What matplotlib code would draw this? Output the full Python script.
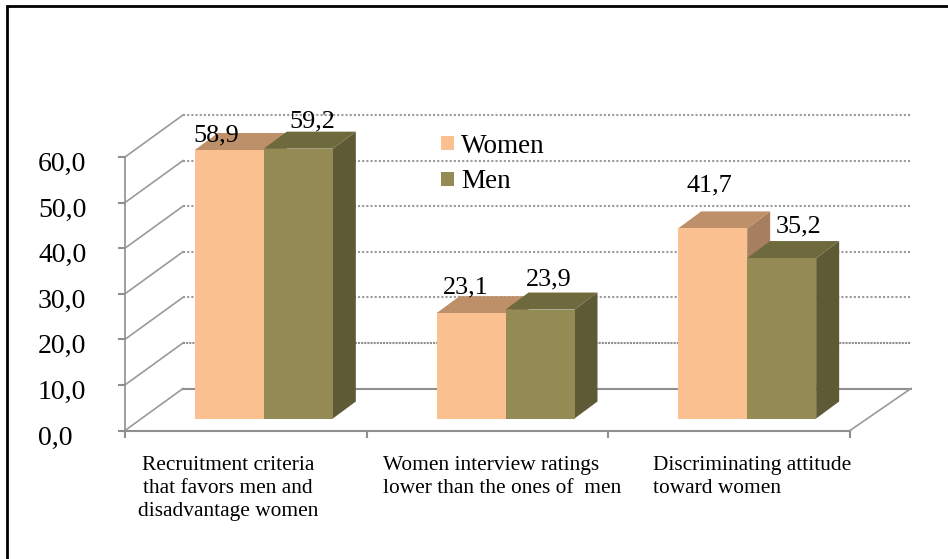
import matplotlib
matplotlib.use("Agg")
import matplotlib.pyplot as plt
from matplotlib.lines import Line2D
from matplotlib.patches import Patch, Polygon, Rectangle
from matplotlib.transforms import ScaledTranslation

categories = ["Recruitment criteria\nthat favors men and\ndisadvantage women",
              "Women interview ratings\nlower than the ones of  men",
              "Discriminating attitude\ntoward women"]
women = [58.9, 23.1, 41.7]
men = [59.2, 23.9, 35.2]
women_labels = ["58,9", "23,1", "41,7"]
men_labels = ["59,2", "23,9", "35,2"]
yticks = [0, 10, 20, 30, 40, 50, 60]
ytick_labels = ["0,0", "10,0", "20,0", "30,0", "40,0", "50,0", "60,0"]

W, H = 948, 559
plt.rcParams["font.family"] = ["Liberation Serif", "DejaVu Serif"]
fig = plt.figure(figsize=(W / 100, H / 100), dpi=100)
ax = fig.add_axes([125 / W, (H - 430.5) / H, 725 / W, 273.5 / H])
ax.set_xlim(0, 3)
ax.set_ylim(0, 60)
PX = 3 / 725
PY = 60 / 273.5
GREY = "#8f8f8f"

# only the top and left sides of the frame are there
fig.add_artist(Line2D([6.5 / W, 6.5 / W, 1], [0, (H - 6) / H, (H - 6) / H], color="black", lw=2,
                      solid_joinstyle="miter", transform=fig.transFigure))

# walls and floor of the fake 3d box
wx0, wx1, wy = 58 * PX, 61 * PX, 42 * PY
for v in yticks:
    ax.plot([0, wx0], [v, v + wy], color="#9a9a9a", lw=1.2, clip_on=False, zorder=1)
    if v == 0:
        ls, col = "-", GREY
    elif v == 10:
        ls, col = (0, (1, 0.5)), GREY
    else:
        ls, col = (0, (1, 1)), "#9a9a9a"
    ax.plot([wx0, 3 + wx1], [v + wy, v + wy], color=col, lw=1.5, ls=ls, clip_on=False, zorder=1)
ax.plot([3, 3 + wx1], [0, wy], color="#9a9a9a", lw=1.2, clip_on=False, zorder=1)

for s in ["top", "right"]:
    ax.spines[s].set_visible(False)
ax.spines["left"].set_linestyle((0, (1, 1)))
ax.spines["left"].set_color(GREY)
ax.spines["left"].set_linewidth(1.2)
ax.spines["bottom"].set_color(GREY)
ax.spines["bottom"].set_linewidth(1.5)
ax.set_yticks(yticks)
ax.set_yticklabels(ytick_labels, fontsize=20)
ax.set_xticks([0, 1, 2, 3])
ax.set_xticklabels([])
ax.tick_params(axis="both", color=GREY, width=1.5, length=5)
ax.tick_params(axis="y", pad=57.6)
ax.patch.set_alpha(0)
# labels start at the same x and sit a little under their ticks
shift = ScaledTranslation(0, -4.5 / 100, fig.dpi_scale_trans)
for lab in ax.get_yticklabels():
    lab.set_ha("left")
    lab.set_transform(lab.get_transform() + shift)


def bar3d(x0, x1, base, val, front, top, side, z):
    dx, dy = 23 * PX, 17 * PY
    v = base + val
    ax.add_patch(Polygon([(x1, base), (x1 + dx, base + dy), (x1 + dx, v + dy), (x1, v)],
                         fc=side, ec="none", clip_on=False, zorder=z))
    ax.add_patch(Polygon([(x0, v), (x0 + dx, v + dy), (x1 + dx, v + dy), (x1, v)],
                         fc=top, ec="none", clip_on=False, zorder=z))
    ax.add_patch(Rectangle((x0, base), x1 - x0, val, fc=front, ec="none", clip_on=False, zorder=z))


base = 12 * PY
bw = 69 * PX
inset = 18 * PX
# manual label nudges, pixels from bar top centre
w_off = [(-13, 15), (-5, 26), (-3, 43)]
m_off = [(14, 27), (9, 30), (17, 32)]
for i in range(3):
    c = i + 0.5 + inset
    bar3d(c - bw, c, base, women[i], "#FBC08F", "#BE9069", "#A67F5E", 2 + i)
    bar3d(c, c + bw, base, men[i], "#948A54", "#6F6A3E", "#5E5A36", 2 + i)
    ax.annotate(women_labels[i], (c - bw / 2, base + women[i]), xytext=w_off[i], textcoords="offset pixels",
                ha="center", va="center", fontsize=18.8, zorder=10, annotation_clip=False)
    ax.annotate(men_labels[i], (c + bw / 2, base + men[i]), xytext=m_off[i], textcoords="offset pixels",
                ha="center", va="center", fontsize=18.8, zorder=10, annotation_clip=False)

# category labels, placed by hand like in the original
cat_x = [228, 383, 653]
cat_ha = ["center", "left", "left"]
for i, t in enumerate(categories):
    ax.text((cat_x[i] - 125) * PX, -(456 - 430.5) * PY, t, ha=cat_ha[i], va="top", fontsize=15.4,
            linespacing=1.3, multialignment=cat_ha[i], clip_on=False)

ax.legend(handles=[Patch(fc="#FBC08F", label="Women"), Patch(fc="#948A54", label="Men")],
          loc="upper left", bbox_to_anchor=((441 - 125) / 725, (430.5 - 134) / 273.5), frameon=False,
          fontsize=19.5, handlelength=0.49, handleheight=0.41, handletextpad=0.26, labelspacing=0.38,
          borderpad=0, borderaxespad=0)

fig.savefig("out.png", dpi=100)
